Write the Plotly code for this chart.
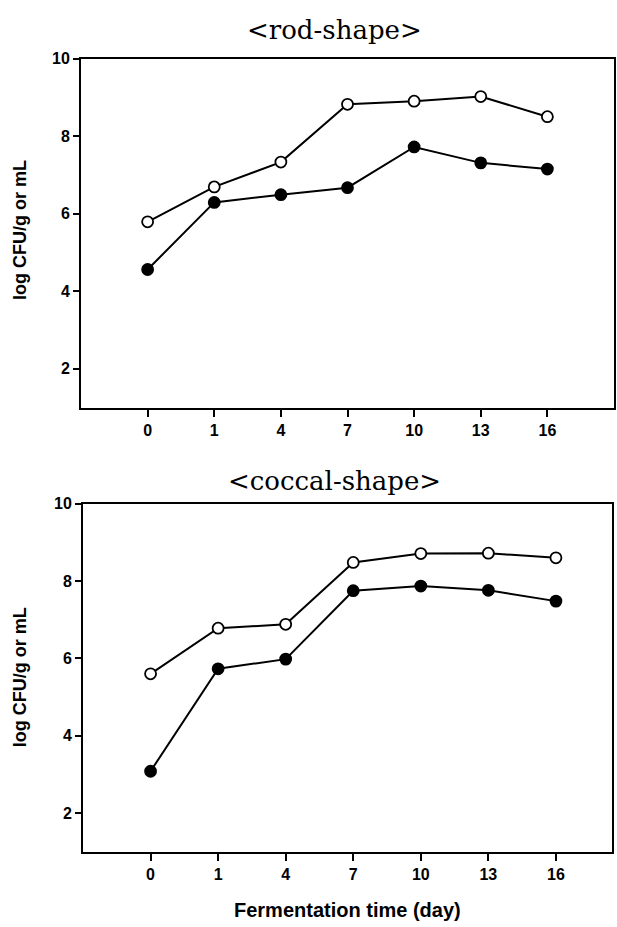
import plotly.graph_objects as go

days = ["0", "1", "4", "7", "10", "13", "16"]
rod_open = [5.79, 6.69, 7.33, 8.82, 8.90, 9.02, 8.50]
rod_filled = [4.56, 6.29, 6.49, 6.67, 7.72, 7.31, 7.15]
coc_open = [5.60, 6.78, 6.88, 8.48, 8.71, 8.72, 8.60]
coc_filled = [3.08, 5.73, 5.98, 7.75, 7.87, 7.76, 7.48]
y_ticks = [2, 4, 6, 8, 10]

W, H = 617, 927
fig = go.Figure()

def add(series, xa, ya, fill):
    fig.add_trace(go.Scatter(
        x=days, y=series, xaxis=xa, yaxis=ya, mode="lines+markers",
        line=dict(color="black", width=2),
        marker=dict(size=11, color=fill, line=dict(color="black", width=1.8)),
        showlegend=False))

add(rod_open, "x", "y", "white")
add(rod_filled, "x", "y", "black")
add(coc_open, "x2", "y2", "white")
add(coc_filled, "x2", "y2", "black")

tickfont = dict(family="Liberation Sans", size=16, color="black", weight="bold")
def xax(dom, anchor, rng):
    return dict(domain=dom, anchor=anchor, type="category", range=rng,
                showline=True, mirror=True, linecolor="black", linewidth=2,
                ticks="outside", ticklen=7, tickwidth=1.5, tickcolor="black",
                showgrid=False, zeroline=False, tickfont=tickfont)
def yax(dom, anchor):
    return dict(domain=dom, anchor=anchor, range=[1, 10], tickvals=y_ticks,
                showline=True, mirror=True, linecolor="black", linewidth=2,
                ticks="outside", ticklen=6, tickwidth=1.5, tickcolor="black",
                showgrid=False, zeroline=False, tickfont=tickfont)

fig.update_layout(
    width=W, height=H, margin=dict(l=0, r=0, t=0, b=0),
    paper_bgcolor="white", plot_bgcolor="white",
    xaxis=xax([81/W, 614/W], "y", [-1, 7]),
    yaxis=yax([1-403/H, 1-51/H], "x"),
    xaxis2=xax([83/W, 612/W], "y2", [-1, 6.83]),
    yaxis2=yax([1-851/H, 1-500/H], "x2"),
)

def ann(text, x, y, size, family, bold=False, angle=0):
    fig.add_annotation(text=text,
                       x=x/W, y=1-y/H, xref="paper", yref="paper",
                       showarrow=False, textangle=angle,
                       font=dict(family=family, size=size, color="black",
                                 weight="bold" if bold else "normal"),
                       xanchor="center", yanchor="middle")

ann("&lt;rod-shape&gt;", 334, 22, 26, "DejaVu Serif")
ann("&lt;coccal-shape&gt;", 334, 477, 26, "DejaVu Serif")
ann("log CFU/g or mL", 20, 224, 18, "Liberation Sans", bold=True, angle=-90)
ann("log CFU/g or mL", 20, 675, 18, "Liberation Sans", bold=True, angle=-90)
ann("Fermentation time (day)", 348, 910, 20, "Liberation Sans", bold=True)

fig.write_html("out.html", config={"displayModeBar": False},
               post_script="document.body.style.margin='0';")
